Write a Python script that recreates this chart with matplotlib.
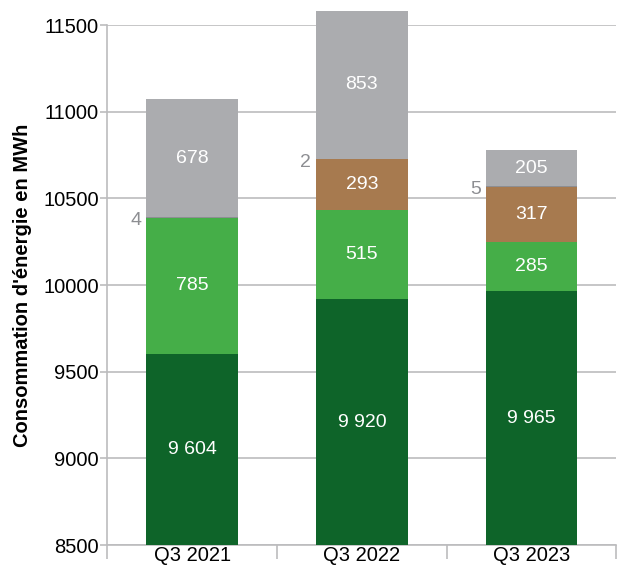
import numpy as np
import matplotlib
matplotlib.use('Agg')
import matplotlib.pyplot as plt
from matplotlib.patches import Rectangle

plt.rcParams['font.family'] = ['Liberation Sans', 'DejaVu Sans']

quarters = ['Q3 2021', 'Q3 2022', 'Q3 2023']
dark_green = [9604, 9920, 9965]
light_green = [785, 515, 285]
brown = [0, 293, 317]
small_grey = [4, 2, 5]
light_grey = [678, 853, 205]

fmt = lambda v: '{:,}'.format(v).replace(',', ' ')

fig = plt.figure(figsize=(6.17, 5.69), dpi=100)
ax = fig.add_axes([0.174, 0.042, 0.825, 0.914])

ymin, ymax = 8500, 11500
x = np.arange(len(quarters))
width = 0.54
bottom = np.zeros(len(quarters))
series = [(dark_green, '#0e6429', True),
          (light_green, '#45ae48', True),
          (brown, '#a77a4f', True),
          (small_grey, '#8d8e92', False),
          (light_grey, '#abacaf', True)]

# clip at the bottom of the axes only, the tallest bar runs past the top
clip = Rectangle((0, 0), 1, 1.2, transform=ax.transAxes, visible=False)
fig.add_artist(clip)

for vals, col, lab in series:
    vals = np.array(vals)
    bars = ax.bar(x, vals, width, bottom=bottom, color=col, edgecolor='none', zorder=3)
    for b in bars:
        b.set_clip_path(clip)
    for i, v in enumerate(vals):
        if v == 0:
            continue
        if lab:
            # centre of the visible part of the segment
            mid = (max(bottom[i], ymin) + bottom[i] + v) / 2
            ax.text(x[i], mid, fmt(v), color='white',
                    ha='center', va='center', fontsize=14, zorder=4)
        else:
            ax.text(x[i] - width / 2 - 0.03, bottom[i] + v / 2 - 20, fmt(v),
                    color='#8d8e92', ha='right', va='center', fontsize=14, zorder=4)
    bottom = bottom + vals

ax.set_ylim(ymin, ymax)
ax.set_xlim(-0.5, 2.5)
ax.set_yticks(np.arange(ymin, ymax + 1, 500))
ax.yaxis.grid(True, color='#bcbcbe', linewidth=1.2, zorder=0)
ax.set_axisbelow(True)

ax.set_xticks(x)
ax.set_xticklabels(quarters, fontsize=14.5)
ax.tick_params(axis='x', length=0, pad=1)
ax.set_xticks([-0.5, 0.5, 1.5, 2.5], minor=True)
ax.tick_params(axis='x', which='minor', length=10, color='#bcbcbe', width=1.2)
ax.tick_params(axis='y', labelsize=14.5, length=5, color='#bcbcbe', width=1.2, pad=1)

for s in ['top', 'right']:
    ax.spines[s].set_visible(False)
for s in ['left', 'bottom']:
    ax.spines[s].set_color('#bcbcbe')
    ax.spines[s].set_linewidth(1.2)

ax.set_ylabel("Consommation d'énergie en MWh", fontsize=14.5, fontweight='bold', labelpad=8)

fig.savefig('out.png', dpi=100)
